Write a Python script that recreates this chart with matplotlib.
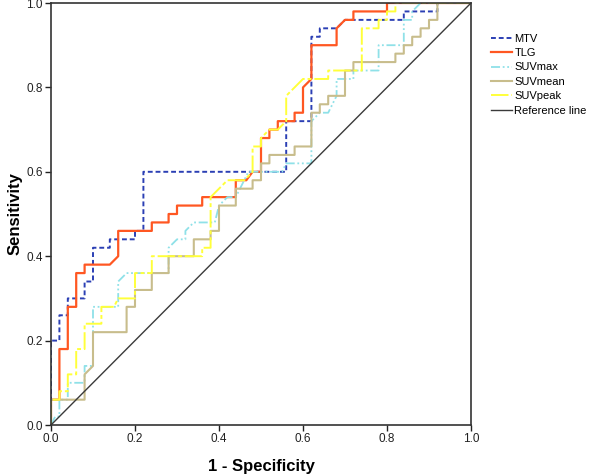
import matplotlib
matplotlib.use("Agg")
import matplotlib.pyplot as plt

plt.rcParams['font.family'] = ['Liberation Sans', 'DejaVu Sans']

# ROC points (1 - specificity, sensitivity)
mtv_fpr = [0, 0, 0.02, 0.02, 0.04, 0.04, 0.08, 0.08, 0.10, 0.10, 0.14, 0.14, 0.20, 0.20, 0.22, 0.22,
           0.56, 0.56, 0.62, 0.62, 0.64, 0.64, 0.68, 0.70, 0.84, 0.84, 0.92, 0.92, 1.0]
mtv_tpr = [0, 0.20, 0.20, 0.26, 0.26, 0.30, 0.30, 0.34, 0.34, 0.42, 0.42, 0.44, 0.44, 0.46, 0.46, 0.60,
           0.60, 0.72, 0.72, 0.92, 0.92, 0.94, 0.94, 0.96, 0.96, 0.98, 0.98, 1.0, 1.0]

tlg_fpr = [0, 0, 0.02, 0.02, 0.04, 0.04, 0.06, 0.06, 0.08, 0.08, 0.14, 0.16, 0.16, 0.24, 0.24, 0.28,
           0.28, 0.30, 0.30, 0.36, 0.36, 0.44, 0.44, 0.465, 0.48, 0.50, 0.50, 0.52, 0.52, 0.54, 0.54,
           0.58, 0.58, 0.60, 0.60, 0.62, 0.62, 0.68, 0.68, 0.70, 0.72, 0.72, 0.80, 0.80, 1.0]
tlg_tpr = [0, 0.06, 0.06, 0.18, 0.18, 0.28, 0.28, 0.36, 0.36, 0.38, 0.38, 0.40, 0.46, 0.46, 0.48, 0.48,
           0.50, 0.50, 0.52, 0.52, 0.54, 0.54, 0.58, 0.58, 0.60, 0.60, 0.68, 0.68, 0.70, 0.70, 0.72,
           0.72, 0.74, 0.74, 0.80, 0.82, 0.90, 0.90, 0.94, 0.96, 0.96, 0.98, 0.98, 1.0, 1.0]

suvmax_fpr = [0, 0.01, 0.02, 0.02, 0.04, 0.04, 0.08, 0.08, 0.10, 0.10, 0.16, 0.16, 0.18, 0.28, 0.28,
              0.30, 0.32, 0.32, 0.34, 0.39, 0.40, 0.42, 0.44, 0.46, 0.47, 0.55, 0.56, 0.62, 0.62, 0.64,
              0.66, 0.68, 0.68, 0.72, 0.72, 0.78, 0.78, 0.84, 0.84, 0.86, 0.86, 0.88, 1.0]
suvmax_tpr = [0, 0.02, 0.02, 0.06, 0.06, 0.10, 0.10, 0.14, 0.14, 0.28, 0.28, 0.34, 0.36, 0.36, 0.42,
              0.44, 0.44, 0.46, 0.48, 0.48, 0.52, 0.54, 0.54, 0.58, 0.60, 0.60, 0.62, 0.62, 0.72, 0.74,
              0.74, 0.78, 0.82, 0.82, 0.84, 0.84, 0.90, 0.90, 0.96, 0.96, 0.98, 1.0, 1.0]

suvmean_fpr = [0, 0, 0.08, 0.08, 0.10, 0.10, 0.18, 0.18, 0.20, 0.20, 0.24, 0.24, 0.28, 0.28, 0.34, 0.34,
               0.38, 0.38, 0.40, 0.40, 0.44, 0.44, 0.48, 0.48, 0.50, 0.50, 0.52, 0.52, 0.58, 0.58,
               0.62, 0.62, 0.64, 0.64, 0.66, 0.66, 0.70, 0.70, 0.72, 0.72, 0.82, 0.82, 0.84, 0.84,
               0.86, 0.86, 0.88, 0.88, 0.90, 0.90, 0.92, 0.92, 1.0]
suvmean_tpr = [0, 0.06, 0.06, 0.12, 0.14, 0.22, 0.22, 0.28, 0.28, 0.32, 0.32, 0.36, 0.36, 0.40, 0.40, 0.44,
               0.44, 0.46, 0.46, 0.52, 0.52, 0.56, 0.56, 0.58, 0.58, 0.62, 0.62, 0.64, 0.64, 0.66,
               0.66, 0.74, 0.74, 0.76, 0.76, 0.78, 0.78, 0.84, 0.84, 0.86, 0.86, 0.88, 0.88, 0.90,
               0.90, 0.92, 0.92, 0.94, 0.94, 0.96, 0.96, 1.0, 1.0]

suvpeak_fpr = [0, 0, 0.02, 0.02, 0.04, 0.04, 0.06, 0.06, 0.08, 0.08, 0.12, 0.12, 0.15, 0.16, 0.20, 0.20,
               0.24, 0.24, 0.36, 0.36, 0.38, 0.38, 0.40, 0.42, 0.46, 0.48, 0.48, 0.50, 0.50, 0.52,
               0.54, 0.56, 0.56, 0.60, 0.66, 0.66, 0.74, 0.74, 0.78, 0.78, 0.80, 0.80, 0.82, 0.82, 1.0]
suvpeak_tpr = [0, 0.06, 0.06, 0.08, 0.08, 0.12, 0.12, 0.18, 0.18, 0.24, 0.24, 0.28, 0.28, 0.30, 0.30, 0.36,
               0.36, 0.40, 0.40, 0.42, 0.42, 0.54, 0.56, 0.58, 0.58, 0.60, 0.66, 0.66, 0.68, 0.70,
               0.70, 0.72, 0.78, 0.82, 0.82, 0.84, 0.84, 0.94, 0.94, 0.96, 0.96, 0.98, 0.98, 1.0, 1.0]

ref_x = [0, 1]
ref_y = [0, 1]

fig = plt.figure(figsize=(5.9, 4.75), dpi=100)
ax = fig.add_axes([51 / 590, 1 - 425 / 475, 420 / 590, 422 / 475])

ax.plot(mtv_fpr, mtv_tpr, color='#2b3fb4', lw=1.4, ls=(0, (2.5, 1.5)), label='MTV')
ax.plot(tlg_fpr, tlg_tpr, color='#ff5722', lw=1.6, label='TLG')
ax.plot(suvmax_fpr, suvmax_tpr, color='#8fe1e8', lw=1.3, ls=(0, (5, 1.5, 1, 1.5, 1, 1.5)), label='SUVmax')
ax.plot(suvmean_fpr, suvmean_tpr, color='#c8bd8c', lw=1.5, label='SUVmean')
ax.plot(suvpeak_fpr, suvpeak_tpr, color='#ffff3a', lw=1.4, ls=(0, (9, 1.5, 2, 1.5)), label='SUVpeak')
ax.plot(ref_x, ref_y, color='#3a3a3a', lw=1.0, label='Reference line')

ax.set_xlim(0, 1)
ax.set_ylim(0, 1)
ax.set_xticks([0, 0.2, 0.4, 0.6, 0.8, 1.0])
ax.set_yticks([0, 0.2, 0.4, 0.6, 0.8, 1.0])
ax.set_xticklabels(['0.0', '0.2', '0.4', '0.6', '0.8', '1.0'])
ax.set_yticklabels(['0.0', '0.2', '0.4', '0.6', '0.8', '1.0'])
ax.tick_params(direction='out', length=4, width=1, labelsize=8.5, colors='#222222', pad=2)
for s in ax.spines.values():
    s.set_linewidth(1.2)
    s.set_color('#333333')

ax.set_xlabel('1 - Specificity', fontsize=12, fontweight='bold', labelpad=10)
ax.set_ylabel('Sensitivity', fontsize=12, fontweight='bold')
ax.yaxis.set_label_coords(-0.068, 0.5)

fig.legend(loc='upper left', bbox_to_anchor=(485 / 590, 1 - 28 / 475), frameon=False,
           fontsize=8, handlelength=1.9, handletextpad=0.25, labelspacing=0.4, borderpad=0)

fig.savefig('out.png', dpi=100)
